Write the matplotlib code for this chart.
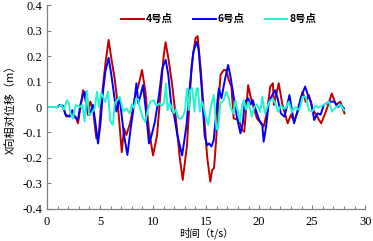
import matplotlib
matplotlib.use('Agg')
import matplotlib.pyplot as plt
from matplotlib.ticker import MultipleLocator

# point 4 (red)
t4 = [0, 1.0, 1.2, 1.5, 1.82, 2.29, 2.7, 2.92, 3.24, 3.4, 3.55, 3.86, 4.08, 4.33, 4.65, 4.9,
      5.12, 5.53, 5.81, 6.07, 6.38, 6.7, 7.05, 7.26, 7.48, 7.86, 8.3, 8.6, 8.96, 9.27, 9.58,
      10.0, 10.38, 10.69, 11.0, 11.18, 11.47, 11.78, 12.1, 12.5, 12.8, 13.2, 13.64, 14.0,
      14.2, 14.5, 14.8, 15.1, 15.4, 15.57, 15.75, 15.95, 16.15, 16.37, 16.66, 16.9, 17.14,
      17.39, 17.6, 18.08, 18.4, 18.6, 18.97, 19.2, 19.5, 19.8, 20.1, 20.43, 20.75, 21.05,
      21.3, 21.4, 21.85, 22.2, 22.7, 23.0, 23.3, 23.8, 24.1, 24.4, 24.7, 25.0, 25.85, 26.3,
      26.85, 27.25, 27.65, 28.05]
v4 = [0, 0, 0.008, 0.0, -0.038, -0.031, -0.038, -0.064, 0.021, 0.066, 0.047, -0.031, 0.021,
      -0.005, -0.123, -0.097, 0.021, 0.178, 0.263, 0.19, 0.112, 0.0, -0.177, -0.084, -0.11,
      -0.06, 0.04, 0.08, 0.145, 0.063, -0.08, -0.19, -0.11, 0.047, 0.2, 0.254, 0.185, 0.094,
      -0.023, -0.193, -0.286, -0.15, 0.165, 0.27, 0.278, 0.145, -0.025, -0.195, -0.293,
      -0.247, -0.24, -0.13, 0.014, 0.126, 0.145, 0.145, 0.106, 0.08, -0.045, -0.05, -0.09,
      -0.097, 0.086, 0.04, -0.005, -0.045, -0.06, -0.077, -0.02, 0.08, 0.093, 0.008, 0.093,
      0.008, -0.064, -0.03, -0.057, 0.0, 0.06, 0.02, 0.047, -0.005, -0.064, -0.018, 0.053,
      0.008, 0.021, -0.025]

# point 6 (blue)
t6 = [0, 1.0, 1.2, 1.5, 1.76, 2.14, 2.39, 2.6, 2.92, 3.14, 3.4, 3.55, 3.77, 4.02, 4.33, 4.59,
      4.81, 5.03, 5.28, 5.5, 5.81, 6.07, 6.54, 6.85, 7.26, 7.58, 7.89, 8.2, 8.43, 8.61, 8.83,
      9.05, 9.3, 9.62, 9.87, 10.18, 10.56, 10.87, 11.19, 11.44, 11.76, 11.98, 12.29, 12.74,
      13.16, 13.48, 13.8, 14.11, 14.3, 14.6, 14.87, 15.1, 15.3, 15.5, 15.72, 15.95, 16.2,
      16.45, 16.77, 17.08, 17.3, 17.6, 17.93, 18.24, 18.46, 18.65, 18.97, 19.2, 19.4, 19.55,
      20.0, 20.3, 20.43, 20.65, 20.9, 21.15, 21.5, 21.75, 22.05, 22.4, 22.86, 23.17, 23.3,
      23.6, 23.95, 24.34, 24.65, 24.9, 25.2, 25.5, 25.8, 26.1, 26.6, 27.1, 27.45, 27.7, 28.0]
v6 = [0, 0, 0.008, 0.005, -0.031, -0.038, -0.012, -0.038, -0.051, 0.008, 0.047, 0.06, -0.005,
      -0.031, 0.008, -0.07, -0.143, -0.07, 0.06, 0.138, 0.193, 0.125, -0.018, 0.034, -0.11,
      -0.188, -0.084, 0.008, 0.093, 0.014, 0.047, 0.086, -0.005, -0.143, -0.11, -0.057, 0.047,
      0.152, 0.185, 0.125, -0.012, -0.031, -0.11, -0.19, -0.07, 0.086, 0.217, 0.256, 0.224,
      0.066, -0.116, -0.15, -0.143, -0.155, -0.13, -0.025, 0.073, 0.034, 0.106, 0.165, 0.12,
      0.04, -0.045, -0.103, -0.064, 0.02, 0.034, 0.01, 0.027, 0.005, -0.05, -0.07, -0.136,
      -0.08, 0.014, 0.04, 0.066, 0.034, -0.025, -0.038, 0.047, -0.031, -0.064, -0.018, 0.04,
      0.08, 0.04, 0.021, -0.051, -0.025, -0.03, 0.008, 0.021, 0.021, 0.0, 0.008, -0.005]

# point 8 (cyan)
t8 = [0, 1.0, 1.35, 1.6, 1.88, 2.07, 2.2, 2.45, 2.7, 3.08, 3.33, 3.55, 3.77, 3.96, 4.2, 4.5,
      4.71, 4.9, 5.12, 5.28, 5.5, 5.75, 5.97, 6.22, 6.38, 6.86, 7.2, 7.5, 7.8, 8.0, 8.2, 8.4,
      8.6, 8.8, 9.06, 9.27, 9.5, 9.75, 10.06, 10.3, 10.6, 10.85, 11.05, 11.22, 11.37, 11.55,
      11.75, 11.93, 12.15, 12.4, 12.7, 13.0, 13.2, 13.36, 13.5, 13.7, 13.9, 14.1, 14.24,
      14.4, 14.62, 14.8, 15.0, 15.2, 15.4, 15.72, 15.97, 16.1, 16.35, 16.66, 16.9, 17.1,
      17.3, 17.57, 17.77, 18.1, 18.2, 18.4, 18.55, 18.75, 19.0, 19.3, 19.55, 19.8, 20.1,
      20.3, 20.55, 20.97, 21.3, 21.55, 21.8, 22.05, 22.3, 22.5, 22.8, 23.1, 23.4, 23.8, 24.1,
      24.4, 24.7, 25.0, 25.3, 25.6, 26.1, 26.6, 26.85, 27.25, 27.7, 28.0]
v8 = [0, 0, 0.008, -0.01, 0.027, 0.014, -0.025, -0.045, 0.008, 0.0, 0.008, -0.057, 0.064,
      -0.03, -0.025, -0.005, 0.06, 0.0, 0.055, 0.04, 0.02, 0.06, -0.057, -0.07, 0.014, 0.04,
      -0.018, -0.005, -0.025, 0.01, -0.005, 0.034, 0.03, -0.01, -0.045, -0.058, -0.012, 0.021,
      0.027, 0.005, 0.014, 0.005, 0.02, 0.093, -0.012, 0.015, 0.0, -0.025, -0.01, -0.045,
      -0.045, -0.018, 0.072, -0.012, 0.066, 0.073, -0.018, 0.073, 0.073, -0.018, 0.02, -0.005,
      -0.045, -0.07, -0.012, 0.047, -0.083, -0.09, 0.014, 0.027, 0.06, 0.04, 0.0, -0.025,
      0.025, -0.038, -0.057, 0.006, 0.027, -0.01, 0.02, -0.038, 0.0, 0.01, -0.02, 0.04,
      -0.025, 0.021, 0.034, 0.01, -0.018, 0.006, -0.005, -0.005, 0.02, -0.02, 0.0, -0.012,
      0.04, 0.04, -0.012, -0.018, 0.005, -0.002, 0.008, 0.021, -0.018, 0.0, 0.008, -0.012]

yticks = [-0.4, -0.3, -0.2, -0.1, 0, 0.1, 0.2, 0.3, 0.4]
ytick_labels = ['-0.4', '-0.3', '-0.2', '-0.1', '0', '0.1', '0.2', '0.3', '0.4']

plt.rcParams['font.family'] = ['Liberation Serif', 'Noto Sans CJK SC']

fig = plt.figure(figsize=(3.73, 2.41), dpi=100)
ax = fig.add_axes([0.126, 0.133, 0.853, 0.846])

ax.plot(t4, v4, color='#C00000', lw=1.4, label='4号点')
ax.plot(t6, v6, color='#0000FF', lw=1.4, label='6号点')
ax.plot(t8, v8, color='#22F5CF', lw=1.4, label='8号点')

ax.set_xlim(0, 30)
ax.set_ylim(-0.4, 0.4)
ax.xaxis.set_major_locator(MultipleLocator(5))
ax.xaxis.set_minor_locator(MultipleLocator(1))
ax.set_yticks(yticks)
ax.set_yticklabels(ytick_labels)
ax.tick_params(direction='in', labelsize=9, length=3, color='#808080', width=0.8)
ax.tick_params(axis='x', pad=5)
ax.tick_params(which='minor', direction='in', length=2, color='#808080', width=0.8)
for s in ['top', 'right']:
    ax.spines[s].set_visible(False)
for s in ['left', 'bottom']:
    ax.spines[s].set_color('#808080')
    ax.spines[s].set_linewidth(0.9)

ax.set_xlabel('时间（t/s）', family=['Noto Sans CJK SC'], fontsize=7.5, labelpad=0)
ax.set_ylabel('X向相对位移（m）', family=['Noto Sans CJK SC'], fontsize=8, labelpad=5)

leg = ax.legend(loc='upper center', ncol=3, frameon=False, bbox_to_anchor=(0.54, 1.0),
                prop={'family': 'Noto Sans CJK SC', 'size': 7.5, 'weight': 'bold'},
                handlelength=2.2, handletextpad=0.2, columnspacing=1.9)

fig.savefig('out.png', dpi=100)
